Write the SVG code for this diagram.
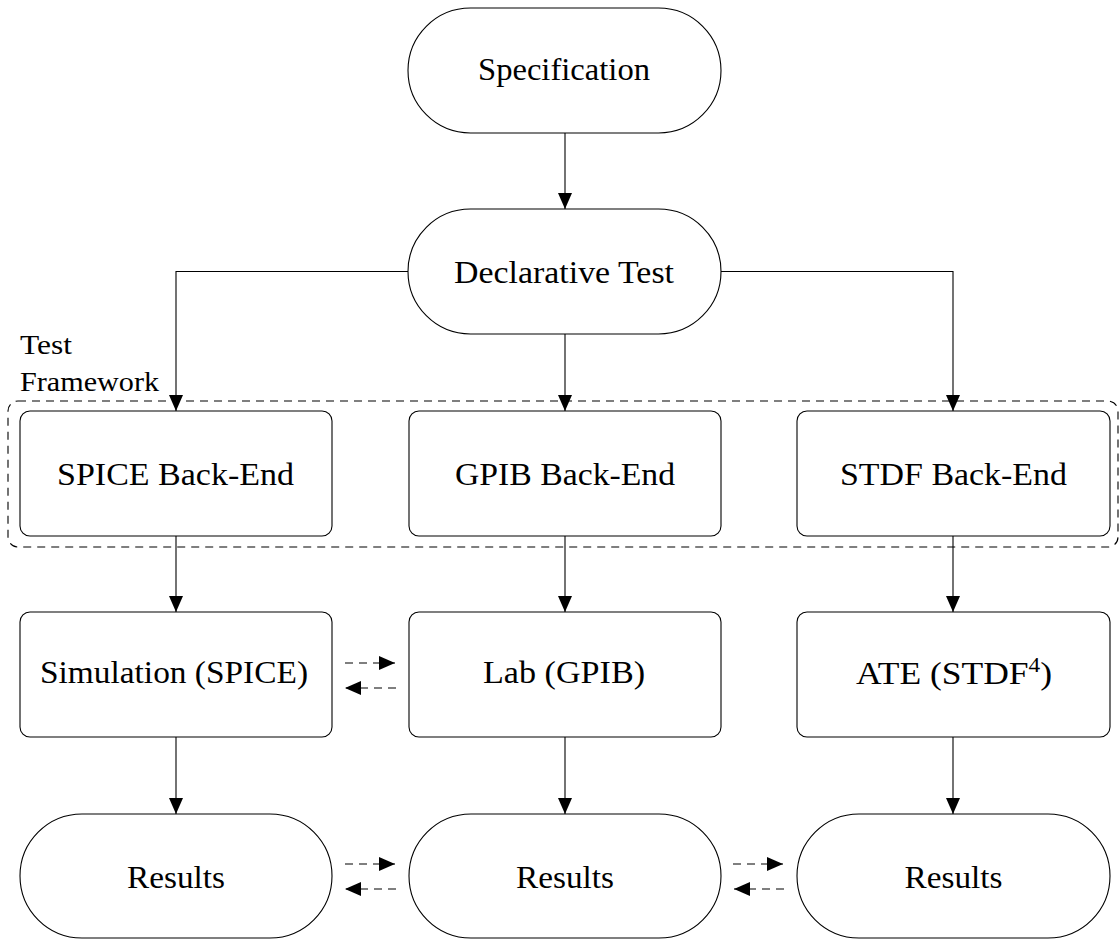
<svg xmlns="http://www.w3.org/2000/svg" width="1119" height="940" viewBox="0 0 1119 940">
<style>
.n{fill:#fff;stroke:#000;stroke-width:1.1}
.t{font-family:"Liberation Serif","DejaVu Serif",serif;font-size:32px;fill:#000;text-anchor:middle}
.lbl{font-family:"Liberation Serif","DejaVu Serif",serif;font-size:28px;fill:#000}
.c{fill:none;stroke:#000;stroke-width:1.1;marker-end:url(#ah)}
.d{stroke-dasharray:8 6}
.frame{fill:none;stroke:#000;stroke-width:1.1;stroke-dasharray:8 6}
</style>
<defs>
<marker id="ah" viewBox="0 0 16 14" refX="16" refY="7" markerWidth="16" markerHeight="14" orient="auto" markerUnits="userSpaceOnUse">
<path d="M0,0 L16,7 L0,14 z" fill="#000"/>
</marker>
</defs>
<rect width="1119" height="940" fill="#fff"/>
<g id="framework">
<rect class="frame" x="8" y="401" width="1110" height="146" rx="10" ry="10"/>
<text class="lbl" x="20" y="353.5" textLength="52" lengthAdjust="spacingAndGlyphs">Test</text>
<text class="lbl" x="20" y="390.5" textLength="139" lengthAdjust="spacingAndGlyphs">Framework</text>
</g>
<g id="connectors">
<path class="c" d="M565,133 V209"/>
<path class="c" d="M408,271.5 H176 V411"/>
<path class="c" d="M565,334 V411"/>
<path class="c" d="M721,271.5 H953 V411"/>
<path class="c" d="M176,536 V612"/>
<path class="c" d="M565,536 V612"/>
<path class="c" d="M953,536 V612"/>
<path class="c" d="M176,737 V814"/>
<path class="c" d="M565,737 V814"/>
<path class="c" d="M953,737 V814"/>
<path class="c d" d="M345,663 H395"/>
<path class="c d" d="M396,688 H345"/>
<path class="c d" d="M345,864 H395"/>
<path class="c d" d="M396,889 H345"/>
<path class="c d" d="M733,864 H783"/>
<path class="c d" d="M784,889 H734"/>
</g>
<g id="spec">
<rect class="n" x="408" y="8" width="313" height="125" rx="62.5" ry="62.5"/>
<text class="t" x="564" y="79.5" textLength="172" lengthAdjust="spacingAndGlyphs">Specification</text>
</g>
<g id="decl">
<rect class="n" x="408" y="209" width="313" height="125" rx="62.5" ry="62.5"/>
<text class="t" x="564" y="282.7" textLength="220" lengthAdjust="spacingAndGlyphs">Declarative Test</text>
</g>
<g id="spice-be">
<rect class="n" x="20" y="411" width="312" height="125" rx="10" ry="10"/>
<text class="t" x="175.5" y="485" textLength="237" lengthAdjust="spacingAndGlyphs">SPICE Back-End</text>
</g>
<g id="gpib-be">
<rect class="n" x="409" y="411" width="312" height="125" rx="10" ry="10"/>
<text class="t" x="565" y="485" textLength="220" lengthAdjust="spacingAndGlyphs">GPIB Back-End</text>
</g>
<g id="stdf-be">
<rect class="n" x="797" y="411" width="313" height="125" rx="10" ry="10"/>
<text class="t" x="953.5" y="485" textLength="227" lengthAdjust="spacingAndGlyphs">STDF Back-End</text>
</g>
<g id="sim">
<rect class="n" x="20" y="612" width="312" height="125" rx="10" ry="10"/>
<text class="t" x="174" y="683" textLength="268" lengthAdjust="spacingAndGlyphs">Simulation (SPICE)</text>
</g>
<g id="lab">
<rect class="n" x="409" y="612" width="312" height="125" rx="10" ry="10"/>
<text class="t" x="564" y="683" textLength="162" lengthAdjust="spacingAndGlyphs">Lab (GPIB)</text>
</g>
<g id="ate">
<rect class="n" x="797" y="612" width="313" height="125" rx="10" ry="10"/>
<text class="t" x="954" y="684" textLength="196" lengthAdjust="spacingAndGlyphs">ATE (STDF<tspan font-size="21" dy="-12">4</tspan><tspan dy="12">)</tspan></text>
</g>
<g id="res-sim">
<rect class="n" x="20" y="814" width="312" height="124" rx="62" ry="62"/>
<text class="t" x="176" y="888" textLength="98" lengthAdjust="spacingAndGlyphs">Results</text>
</g>
<g id="res-lab">
<rect class="n" x="409" y="814" width="312" height="124" rx="62" ry="62"/>
<text class="t" x="565" y="888" textLength="98" lengthAdjust="spacingAndGlyphs">Results</text>
</g>
<g id="res-ate">
<rect class="n" x="797" y="814" width="313" height="124" rx="62" ry="62"/>
<text class="t" x="953.5" y="888" textLength="98" lengthAdjust="spacingAndGlyphs">Results</text>
</g>
</svg>
